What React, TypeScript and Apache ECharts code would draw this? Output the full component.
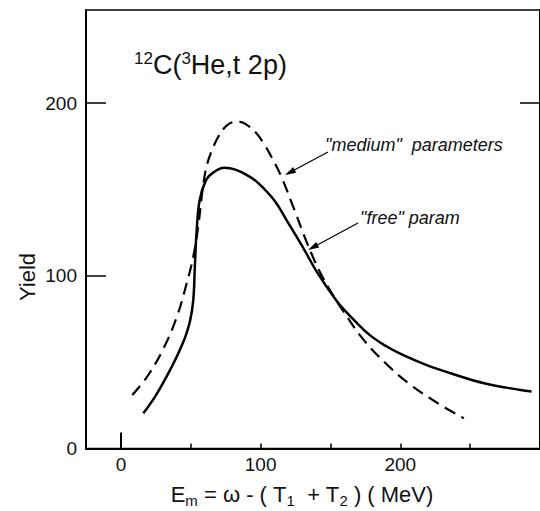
import React, { useEffect, useRef } from "react";
import * as echarts from "echarts";

// ---- data ----
const solidX = [16, 24, 31, 37, 42, 46, 49.5, 51.8, 52.9, 54.1, 56.4, 61, 66, 74, 82, 91.5, 98.5, 110, 119.5, 131, 140.5, 154.5, 165, 178, 190, 201, 218, 236, 260, 286, 294];
const solidY = [20.4, 29.5, 39.2, 48.3, 56.8, 64.5, 74, 86, 105, 124.7, 144, 155.6, 159.8, 162.6, 161.5, 157.8, 153.6, 143.5, 131, 115.5, 102, 85.5, 76, 65.8, 59.2, 54.5, 48.6, 43.6, 37.8, 33.9, 33];
const dashX = [8.1, 19.1, 30.8, 40.1, 47.1, 51.8, 55.3, 58.8, 61.5, 65.8, 70, 75, 80, 85, 90, 96, 102, 108, 114.8, 124.2, 133.5, 142.9, 151, 159.2, 173.2, 189.5, 205.9, 226.9, 245.5];
const dashY = [31, 42, 58.5, 76.4, 95.7, 111.1, 128.5, 152, 164, 174, 181, 186.5, 189, 189.2, 187.5, 183.5, 177, 168.5, 157.5, 138.2, 118.5, 101.5, 89.9, 79.5, 63.5, 49.4, 37.8, 26.2, 17.5];
const xLabelValues = [0, 100, 200];
const xTickValues = [50, 100, 150, 200, 250];
const yLabelValues = [0, 100, 200];
const yTickValues = [100, 200];
const yRightTickValues = [200];

const FONT = "Liberation Sans, Arial, sans-serif";

function arrow(x1: number, y1: number, x2: number, y2: number) {
  const dx = x2 - x1, dy = y2 - y1;
  const L = Math.hypot(dx, dy);
  const ux = dx / L, uy = dy / L;
  const hl = 11, hw = 3.2;
  const bx = x2 - ux * hl, by = y2 - uy * hl;
  return [
    { type: "line", shape: { x1, y1, x2: bx + ux * 2, y2: by + uy * 2 }, style: { stroke: "#000", lineWidth: 1.2 } },
    {
      type: "polygon",
      shape: { points: [[x2, y2], [bx - uy * hw, by + ux * hw], [bx + uy * hw, by - ux * hw]] },
      style: { fill: "#000" },
    },
  ];
}

export default function App() {
  const ref = useRef<HTMLDivElement>(null);
  useEffect(() => {
    if (!ref.current) return;
    const chart = echarts.init(ref.current, undefined, { renderer: "svg" });
    const solid = solidX.map((x, i) => [x, solidY[i]]);
    const dashed = dashX.map((x, i) => [x, dashY[i]]);
    chart.setOption({
      animation: false,
      backgroundColor: "#fff",
      grid: { left: 86, right: -11, top: 10, bottom: 62.5, show: true, borderColor: "#000", borderWidth: 1.5, backgroundColor: "transparent" },
      xAxis: [
        {
          type: "value", min: -25, max: 300, position: "bottom",
          axisLine: { show: true, onZero: false, lineStyle: { color: "#000", width: 2 } },
          axisTick: { show: true, inside: true, length: 5, customValues: xTickValues, lineStyle: { color: "#000", width: 1.5 } },
          axisLabel: { customValues: xLabelValues, fontSize: 19, fontFamily: FONT, color: "#111", margin: 6 },
          splitLine: { show: false },
        },
        {
          type: "value", min: -25, max: 300, position: "bottom",
          axisLine: { show: false, onZero: false },
          axisTick: { show: true, inside: true, length: 16, customValues: [0], lineStyle: { color: "#000", width: 2 } },
          axisLabel: { show: false },
          splitLine: { show: false },
        },
      ],
      yAxis: [
        {
          type: "value", min: 0, max: 254, position: "left",
          axisLine: { show: true, onZero: false, lineStyle: { color: "#000", width: 2 } },
          axisTick: { show: true, inside: true, length: 20, customValues: yTickValues, lineStyle: { color: "#000", width: 1.5 } },
          axisLabel: { customValues: yLabelValues, fontSize: 19, fontFamily: FONT, color: "#111", margin: 9 },
          splitLine: { show: false },
        },
        {
          type: "value", min: 0, max: 254, position: "right",
          axisLine: { show: true, onZero: false, lineStyle: { color: "#000", width: 2 } },
          axisTick: { show: true, inside: true, length: 20, customValues: yRightTickValues, lineStyle: { color: "#000", width: 1.5 } },
          axisLabel: { show: false },
          splitLine: { show: false },
        },
      ],
      series: [
        {
          name: "free", type: "line", data: solid, symbol: "none", smooth: 0.4,
          lineStyle: { color: "#000", width: 2.5 },
        },
        {
          name: "medium", type: "line", data: dashed, symbol: "none", smooth: 0.4,
          lineStyle: { color: "#000", width: 2.2, type: [12, 7] },
        },
      ],
      graphic: [
        {
          type: "text", x: 134, y: 50,
          style: {
            text: "{sup|12}{m|C(}{sup|3}{m|He,t 2p)}",
            rich: {
              m: { fontSize: 27, fontFamily: FONT, fill: "#111", lineHeight: 30 },
              sup: { fontSize: 17, fontFamily: FONT, fill: "#111", lineHeight: 23, verticalAlign: "top" },
            },
          },
        },
        {
          type: "text", x: 27, y: 277, rotation: Math.PI / 2,
          style: { text: "Yield", fontSize: 22, fontFamily: FONT, fill: "#111", align: "center", verticalAlign: "middle" },
        },
        {
          type: "text", x: 302, y: 494,
          style: {
            text: "{m|E}{sub|m}{m| = ω - ( T}{sub|1}{m|  + T}{sub|2}{m| ) ( MeV)}",
            align: "center",
            verticalAlign: "middle",
            rich: {
              m: { fontSize: 22, fontFamily: FONT, fill: "#111", lineHeight: 28 },
              sub: { fontSize: 15, fontFamily: FONT, fill: "#111", lineHeight: 14, verticalAlign: "bottom" },
            },
          },
        },
        {
          type: "text", x: 325, y: 145,
          style: { text: "\"medium\"  parameters", fontSize: 18, fontStyle: "italic", fontFamily: FONT, fill: "#111", verticalAlign: "middle" },
        },
        {
          type: "text", x: 360, y: 218,
          style: { text: "\"free\" param", fontSize: 18, fontStyle: "italic", fontFamily: FONT, fill: "#111", verticalAlign: "middle" },
        },
        ...arrow(328, 152, 285, 175),
        ...arrow(358, 223, 308, 250),
      ],
    });
    return () => chart.dispose();
  }, []);
  return <div ref={ref} style={{ position: "fixed", left: 0, top: 0, width: 540, height: 511 }} />;
}
